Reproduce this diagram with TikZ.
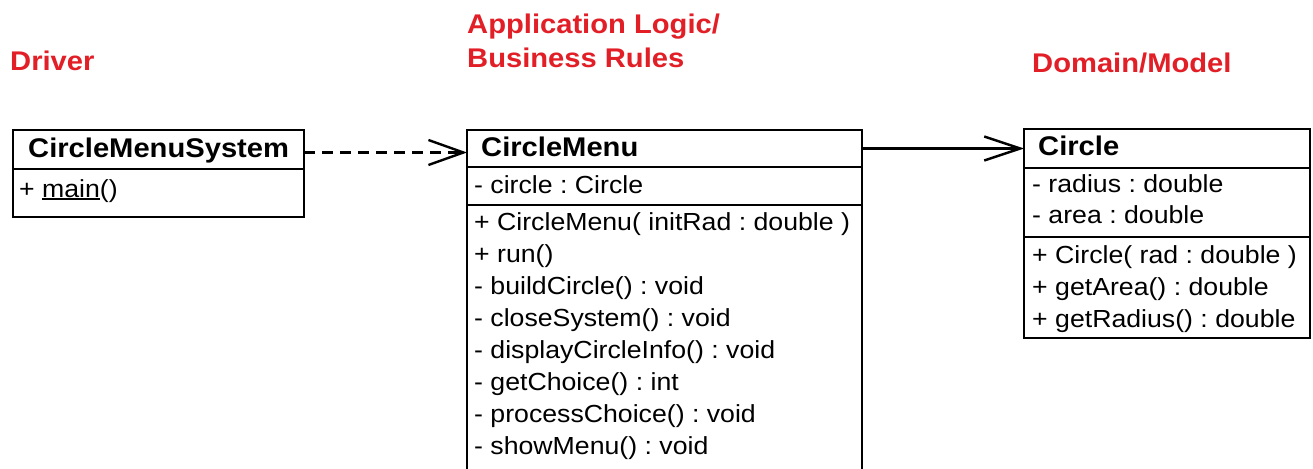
\documentclass[tikz,border=0pt]{standalone}
\usepackage{fontspec}
\setmainfont[FakeStretch=1.08]{Liberation Sans}
\usetikzlibrary{arrows.meta}
\definecolor{labred}{RGB}{226,30,38}
\newcommand\myul[1]{{\setbox0\hbox{#1}\rlap{\rule[-2.6pt]{\wd0}{1.6pt}}\box0}}
\frenchspacing
\begin{document}
\begin{tikzpicture}[x=1pt,y=-1pt,
  boxpart/.style={draw=black, line width=2.1pt, anchor=north west, inner sep=0pt, outer sep=0pt},
  ttl/.style={anchor=base west, inner sep=0pt, font=\fontsize{27}{32}\selectfont\bfseries},
  item/.style={anchor=base west, inner sep=0pt, font=\fontsize{24.7}{30}\selectfont},
  lab/.style={anchor=base west, inner sep=0pt, text=labred, font=\fontsize{27}{34}\selectfont\bfseries},
  dep/.style={line width=2.2pt, dash pattern=on 11pt off 7pt, -{Straight Barb[length=35pt,width=25pt,line width=2.4pt]}},
  assoc/.style={line width=2.2pt, -{Straight Barb[length=36pt,width=24pt,line width=2.4pt]}}]
\clip (0,0) rectangle (1313,468);
\fill[white] (0,0) rectangle (1313,468);

% red layer labels
\node[lab] (lDriver) at (10,71) {Driver};
\node[lab] (lApp1) at (467,34) {Application Logic/};
\node[lab] (lApp2) at (467,68) {Business Rules};
\node[lab] (lDom) at (1032,73) {Domain/Model};

% CircleMenuSystem
\node[boxpart, minimum width=291pt, minimum height=39pt] (cmsT) at (13,130) {};
\node[boxpart, minimum width=291pt, minimum height=48pt] (cmsB) at (13,169) {};
\node[ttl] (cmsN) at (28,157) {CircleMenuSystem};
\node[item] (cms1) at (19,197) {+ \myul{main}()};

% CircleMenu
\node[boxpart, minimum width=395pt, minimum height=37pt] (cmT) at (467,130) {};
\node[boxpart, minimum width=395pt, minimum height=38pt] (cmA) at (467,167) {};
\node[boxpart, minimum width=395pt, minimum height=290pt] (cmM) at (467,205) {};
\node[ttl] (cmN) at (481,156) {CircleMenu};
\node[item] (cma1) at (474,193) {- circle : Circle};
\node[item] (cmm1) at (474,230) {+ CircleMenu( initRad : double )};
\node[item] (cmm2) at (474,262) {+ run()};
\node[item] (cmm3) at (474,294) {- buildCircle() : void};
\node[item] (cmm4) at (474,326) {- closeSystem() : void};
\node[item] (cmm5) at (474,358) {- displayCircleInfo() : void};
\node[item] (cmm6) at (474,390) {- getChoice() : int};
\node[item] (cmm7) at (474,422) {- processChoice() : void};
\node[item] (cmm8) at (474,454) {- showMenu() : void};

% Circle
\node[boxpart, minimum width=286pt, minimum height=39pt] (cT) at (1024,129) {};
\node[boxpart, minimum width=286pt, minimum height=69pt] (cA) at (1024,168) {};
\node[boxpart, minimum width=286pt, minimum height=101pt] (cM) at (1024,237) {};
\node[ttl] (cN) at (1038,155) {Circle};
\node[item] (ca1) at (1032,192) {- radius : double};
\node[item] (ca2) at (1032,223) {- area : double};
\node[item] (cm1) at (1032,263) {+ Circle( rad : double )};
\node[item] (cm2) at (1032,295) {+ getArea() : double};
\node[item] (cm3) at (1032,327) {+ getRadius() : double};

% connectors
\draw[dep] ([yshift=-3pt]cmsT.east) -- ([yshift=-3pt]cmsT.east -| cmT.west);
\draw[assoc] (cmT.east) -- (cmT.east -| cT.west);
\end{tikzpicture}
\end{document}
